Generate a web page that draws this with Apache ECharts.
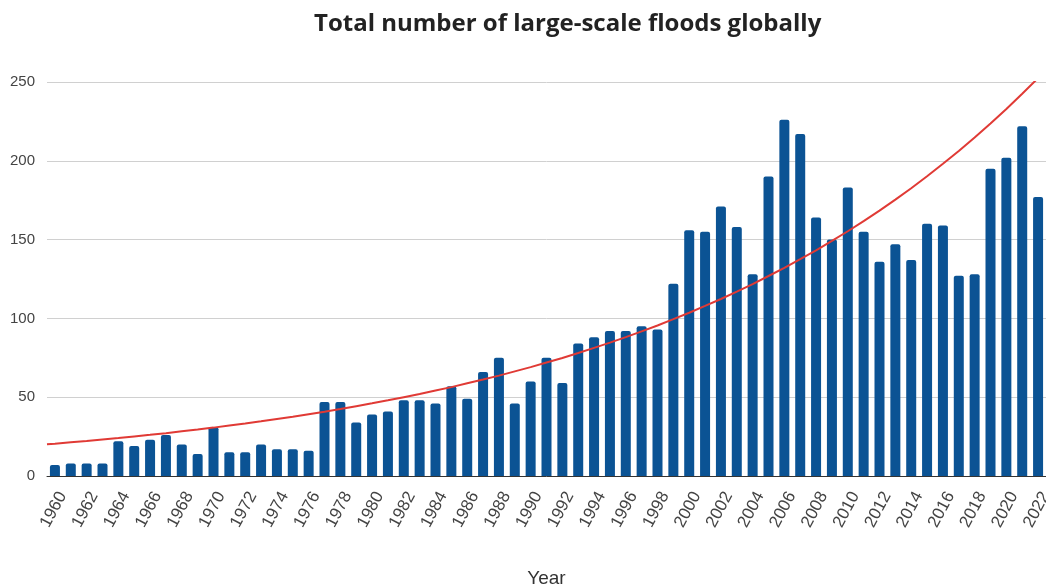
<!DOCTYPE html>
<html>
<head>
<meta charset="utf-8">
<script src="https://cdn.jsdelivr.net/npm/echarts@6/dist/echarts.min.js"></script>
<style>html,body{margin:0;padding:0;background:#fff}#chart{width:1046px;height:588px}</style>
</head>
<body>
<div id="chart"></div>
<script>
const years = ['1960','1961','1962','1963','1964','1965','1966','1967','1968','1969','1970','1971','1972','1973','1974','1975','1976','1977','1978','1979','1980','1981','1982','1983','1984','1985','1986','1987','1988','1989','1990','1991','1992','1993','1994','1995','1996','1997','1998','1999','2000','2001','2002','2003','2004','2005','2006','2007','2008','2009','2010','2011','2012','2013','2014','2015','2016','2017','2018','2019','2020','2021','2022'];
const floods = [7,8,8,8,22,19,23,26,20,14,31,15,15,20,17,17,16,47,47,34,39,41,48,48,46,57,49,66,75,46,60,75,59,84,88,92,92,95,93,122,156,155,171,158,128,190,226,217,164,150,183,155,136,147,137,160,159,127,128,195,202,222,177];
// exponential trendline, at plot edges and each year
const trendYears = [1959.5,1960,1961,1962,1963,1964,1965,1966,1967,1968,1969,1970,1971,1972,1973,1974,1975,1976,1977,1978,1979,1980,1981,1982,1983,1984,1985,1986,1987,1988,1989,1990,1991,1992,1993,1994,1995,1996,1997,1998,1999,2000,2001,2002,2003,2004,2005,2006,2007,2008,2009,2010,2011,2012,2013,2014,2015,2016,2017,2018,2019,2020,2021,2022,2022.5];
const trendValues = [20.1,20.5,21.4,22.2,23.2,24.1,25.1,26.1,27.2,28.4,29.5,30.7,32.0,33.3,34.7,36.2,37.6,39.2,40.8,42.5,44.3,46.1,48.0,50.0,52.0,54.2,56.4,58.8,61.2,63.7,66.4,69.1,72.0,74.9,78.0,81.3,84.6,88.1,91.8,95.5,99.5,103.6,107.9,112.3,117.0,121.8,126.9,132.1,137.6,143.2,149.2,155.3,161.7,168.4,175.4,182.6,190.2,198.1,206.2,214.8,223.6,232.9,242.5,252.5,257.7];
const yTicks = [0,50,100,150,200,250];

const chart = echarts.init(document.getElementById('chart'));
chart.setOption({
  animation: false,
  title: {
    text: 'Total number of large-scale floods globally',
    left: 309, top: 7,
    textStyle: {fontFamily: 'Open Sans', fontWeight: 'bold', fontSize: 24, color: '#222'}
  },
  grid: {left: 47, right: 0, top: 82, bottom: 112, containLabel: false, outerBoundsMode: 'none'},
  xAxis: [{
    type: 'category', data: years,
    name: 'Year', nameLocation: 'middle', nameGap: 93,
    nameTextStyle: {fontFamily: 'Liberation Sans', fontSize: 19, color: '#333'},
    axisLine: {lineStyle: {color: '#333', width: 1}},
    axisTick: {show: false},
    axisLabel: {interval: 1, rotate: 62, margin: 13, verticalAlign: 'top', fontFamily: 'Liberation Sans', fontSize: 17, color: '#444'}
  }, {
    type: 'value', min: 1959.5, max: 2022.5, show: false
  }],
  yAxis: {
    type: 'value', min: yTicks[0], max: yTicks[yTicks.length-1], interval: 50,
    axisLine: {show: false}, axisTick: {show: false},
    axisLabel: {margin: 12, fontFamily: 'Liberation Sans', fontSize: 15, color: '#444'},
    splitLine: {lineStyle: {color: '#d0d0d0', width: 1}}
  },
  series: [{
    type: 'bar', data: floods, xAxisIndex: 0, barWidth: 10,
    itemStyle: {color: '#0b5394', borderRadius: [2,2,0,0]}
  }, {
    type: 'line', xAxisIndex: 1, smooth: false, symbol: 'none', clip: true,
    data: trendYears.map((y,i)=>[y, trendValues[i]]),
    lineStyle: {color: '#e03a35', width: 2}, z: 5
  }]
});
</script>
</body>
</html>
